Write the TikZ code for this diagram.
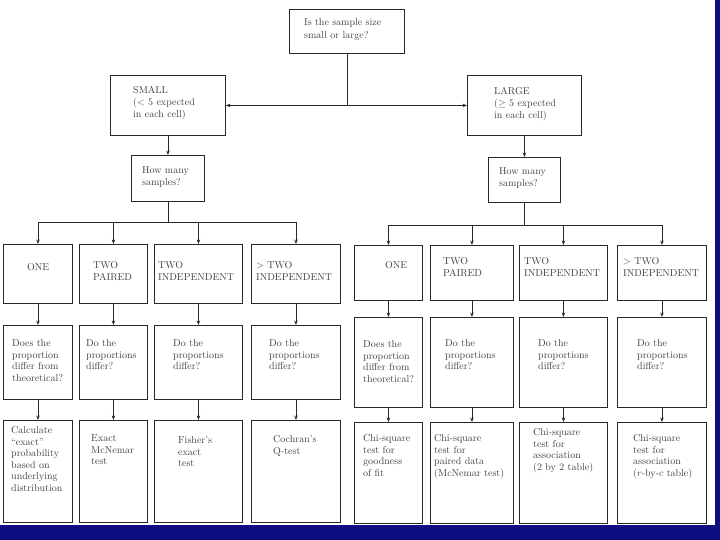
\documentclass[tikz,border=0pt]{standalone}
\usepackage{fontspec}
\usetikzlibrary{arrows.meta}
\definecolor{navy}{RGB}{14,14,128}
\definecolor{ink}{RGB}{40,40,40}
\definecolor{txtc}{RGB}{65,65,65}
\newcommand\bx[5]{\node[box,minimum width={(#4-#2)*1pt},minimum height={(#5-#3)*1pt}] (#1) at (#2,#3) {};}
\newcommand\tx[4]{\node[txt] (#1) at (#2,#3) {#4};}
\begin{document}
\begin{tikzpicture}[x=1pt,y=-1pt,
  box/.style={draw=ink,line width=0.9pt,rectangle,inner sep=0pt,anchor=north west},
  txt/.style={anchor=north west,inner sep=0pt,align=left,text=txtc,font=\fontsize{10}{11.5}\selectfont},
  conn/.style={draw=ink,line width=0.8pt},
  arr/.style={conn,-{Stealth[length=4.5pt,width=3.5pt]}}]
\useasboundingbox (0,0) rectangle (720,540);
\fill[navy] (0,0) rectangle (720,540);
\fill[white] (0,0) rectangle (715,525);

% top levels
\bx{top}{289}{9}{404}{53}
\bx{small}{110}{75}{225}{135}
\bx{large}{467}{75}{581}{135}
\bx{hm1}{131}{155}{204}{201}
\bx{hm2}{488}{157}{560}{202}

% left rows
\bx{a1}{3}{244}{72}{303}
\bx{a2}{79}{244}{147}{303}
\bx{a3}{154}{244}{242}{303}
\bx{a4}{251}{244}{340}{303}
\bx{aq1}{3}{325}{72}{399}
\bx{aq2}{79}{325}{147}{399}
\bx{aq3}{154}{325}{242}{399}
\bx{aq4}{251}{325}{340}{399}
\bx{ar1}{3}{420}{72}{522}
\bx{ar2}{79}{420}{147}{522}
\bx{ar3}{154}{420}{242}{522}
\bx{ar4}{251}{420}{340}{522}

% right rows
\bx{b1}{354}{245}{422}{300}
\bx{b2}{430}{245}{513}{300}
\bx{b3}{519}{245}{607}{300}
\bx{b4}{617}{245}{706}{300}
\bx{bq1}{354}{317}{422}{407}
\bx{bq2}{430}{317}{513}{407}
\bx{bq3}{519}{317}{607}{407}
\bx{bq4}{617}{317}{706}{407}
\bx{br1}{354}{422}{422}{523}
\bx{br2}{430}{422}{513}{523}
\bx{br3}{519}{422}{607}{523}
\bx{br4}{617}{422}{706}{523}

% texts
\node[txt,font=\fontsize{10}{13}\selectfont] (topt) at (304,18.5) {Is the sample size\\small or large?};
\node[txt,font=\fontsize{10}{12}\selectfont] (smallt) at (133,86.5) {SMALL\\(< 5 expected\\in each cell)};
\node[txt,font=\fontsize{10}{12}\selectfont] (larget) at (494,87.5) {LARGE\\($\geq$ 5 expected\\in each cell)};
\tx{hm1t}{142}{166.5}{How many\\samples?}
\tx{hm2t}{499}{167.5}{How many\\samples?}

\tx{a1t}{27}{263.5}{ONE}
\tx{a2t}{93}{261.5}{TWO\\PAIRED}
\tx{a3t}{158}{261.5}{TWO\\INDEPENDENT}
\tx{a4t}{256}{261.5}{$>$ TWO\\INDEPENDENT}
\tx{b1t}{385}{261.5}{ONE}
\tx{b2t}{443}{257.5}{TWO\\PAIRED}
\tx{b3t}{524}{257.5}{TWO\\INDEPENDENT}
\tx{b4t}{623}{257.5}{$>$ TWO\\INDEPENDENT}

\tx{aq1t}{12}{339.5}{Does the\\proportion\\differ from\\theoretical?}
\tx{aq2t}{86}{339.5}{Do the\\proportions\\differ?}
\tx{aq3t}{173}{339.5}{Do the\\proportions\\differ?}
\tx{aq4t}{269}{339.5}{Do the\\proportions\\differ?}
\tx{bq1t}{363}{340.5}{Does the\\proportion\\differ from\\theoretical?}
\tx{bq2t}{445}{339.5}{Do the\\proportions\\differ?}
\tx{bq3t}{538}{339.5}{Do the\\proportions\\differ?}
\tx{bq4t}{637}{339.5}{Do the\\proportions\\differ?}

\tx{ar1t}{11}{426.5}{Calculate\\“exact”\\probability\\based on\\underlying\\distribution}
\tx{ar2t}{91}{434.5}{Exact\\McNemar\\test}
\tx{ar3t}{178}{436.5}{Fisher's\\exact\\test}
\tx{ar4t}{273}{435.5}{Cochran's\\Q-test}
\tx{br1t}{363}{434.5}{Chi-square\\test for\\goodness\\of fit}
\tx{br2t}{434}{434.5}{Chi-square\\test for\\paired data\\(McNemar test)}
\tx{br3t}{533}{428.5}{Chi-square\\test for\\association\\(2 by 2 table)}
\tx{br4t}{633}{434.5}{Chi-square\\test for\\association\\($r$-by-$c$ table)}

% connectors
\draw[conn] (top.south) -- (top.south |- small.east) coordinate (jt);
\draw[arr] (jt) -- (small.east);
\draw[arr] (jt) -- (large.west);
\draw[arr] (small.south) -- (hm1.north);
\draw[arr] (large.south) -- (hm2.north);

\draw[conn] (hm1.south) -- ++(0,21) coordinate (jl);
\foreach \n in {a1,a2,a3,a4} \draw[arr] (jl) -| (\n.north);
\draw[conn] (hm2.south) -- ++(0,23) coordinate (jr);
\foreach \n in {b1,b2,b3,b4} \draw[arr] (jr) -| (\n.north);

\foreach \i in {1,2,3,4} {
  \draw[arr] (a\i.south) -- (aq\i.north);
  \draw[arr] (aq\i.south) -- (ar\i.north);
  \draw[arr] (b\i.south) -- (bq\i.north);
  \draw[arr] (bq\i.south) -- (br\i.north);
}
\end{tikzpicture}
\end{document}
